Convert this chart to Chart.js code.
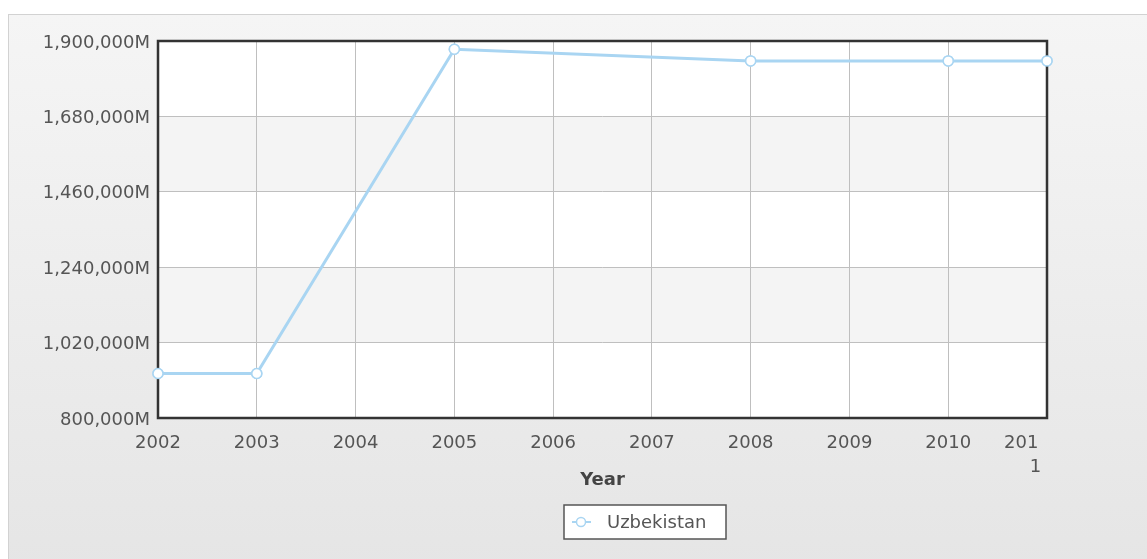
<!DOCTYPE html>
<html>
<head>
<meta charset="utf-8">
<script src="https://cdn.jsdelivr.net/npm/chart.js@4.4.0/dist/chart.umd.min.js"></script>
<style>
  body { margin: 0; background: #fff; }
  #panel {
    position: absolute; left: 8px; top: 14px; width: 1150px; height: 560px;
    border-top: 1px solid #d2d2d2; border-left: 1px solid #d2d2d2;
    background: linear-gradient(#f5f5f5, #e5e5e5);
  }
  #wrap { position: absolute; left: 0; top: 0; width: 1147px; height: 559px; }
</style>
</head>
<body>
<div id="panel"></div>
<div id="wrap"><canvas id="chart"></canvas></div>
<script>
// datos (millones)
const years = ['2002', '2003', '2004', '2005', '2006', '2007', '2008', '2009', '2010', '2011'];
const uzbekistan = [930000, 930000, null, 1876000, null, null, 1842000, null, 1842000, 1842000];
const yMin = 800000;
const yMax = 1900000;
const yStep = 220000;

const lineColor = '#a9d5f2';
const fontFamily = '"DejaVu Sans", Verdana, sans-serif';

// bandas alternas y marco del área de trazado
const plotBackground = {
    id: 'plotBackground',
    beforeDraw(chart) {
        const { ctx, chartArea: a, scales: { y } } = chart;
        ctx.save();
        ctx.fillStyle = '#ffffff';
        ctx.fillRect(a.left, a.top, a.width, a.height);
        let i = 0;
        for (let v = yMax; v > yMin; v -= yStep) {
            if (i % 2 === 1) {
                const t = y.getPixelForValue(v);
                const b = y.getPixelForValue(v - yStep);
                ctx.fillStyle = '#f4f4f4';
                ctx.fillRect(a.left, t, a.width, b - t);
            }
            i++;
        }
        ctx.restore();
    },
    afterDatasetsDraw(chart) {
        const { ctx, chartArea: a } = chart;
        ctx.save();
        ctx.strokeStyle = '#333';
        ctx.lineWidth = 2.5;
        ctx.strokeRect(a.left, a.top, a.width, a.height);
        ctx.restore();
        // volver a dibujar los puntos encima del marco
        const meta = chart.getDatasetMeta(0);
        meta.data.forEach(p => { if (!p.skip) p.draw(ctx); });
    }
};

// leyenda con recuadro, dibujada a mano
const boxLegend = {
    id: 'boxLegend',
    afterDraw(chart) {
        const { ctx } = chart;
        const ds = chart.data.datasets[0];
        const x = 564, y = 505, w = 162, h = 34;
        ctx.save();
        ctx.fillStyle = '#fff';
        ctx.fillRect(x, y, w, h);
        ctx.strokeStyle = '#555';
        ctx.lineWidth = 1.5;
        ctx.strokeRect(x, y, w, h);
        const cy = y + h / 2;
        ctx.strokeStyle = ds.borderColor;
        ctx.lineWidth = 2;
        ctx.beginPath();
        ctx.moveTo(x + 8, cy);
        ctx.lineTo(x + 27, cy);
        ctx.stroke();
        ctx.beginPath();
        ctx.arc(x + 17, cy, 4.5, 0, Math.PI * 2);
        ctx.fillStyle = '#fff';
        ctx.fill();
        ctx.lineWidth = 1.5;
        ctx.stroke();
        ctx.fillStyle = '#555';
        ctx.font = '18px ' + fontFamily;
        ctx.textBaseline = 'middle';
        ctx.fillText(ds.label, x + 43, cy + 1);
        ctx.restore();
    }
};

const ctx = document.getElementById('chart').getContext('2d');
const chart = new Chart(ctx, {
    type: 'line',
    data: {
        labels: years,
        datasets: [{
            label: 'Uzbekistan',
            data: uzbekistan,
            borderColor: lineColor,
            borderWidth: 3,
            pointRadius: 5,
            pointBorderWidth: 1.5,
            pointBackgroundColor: '#fff',
            pointBorderColor: lineColor,
            spanGaps: true,
            tension: 0,
            clip: false
        }]
    },
    options: {
        responsive: true,
        maintainAspectRatio: false,
        animation: false,
        layout: { padding: { top: 41, right: 100, bottom: 60, left: 0 } },
        plugins: {
            legend: { display: false },
            tooltip: { enabled: false }
        },
        scales: {
            x: {
                offset: false,
                grid: { color: '#bfbfbf', drawTicks: false },
                border: { display: false },
                ticks: {
                    color: '#555',
                    font: { family: fontFamily, size: 18, lineHeight: 1.35 },
                    padding: 13,
                    maxRotation: 0,
                    autoSkip: false,
                    // la última etiqueta no cabe y se parte en dos líneas, desplazada a la izquierda
                    callback(value, index, ticks) {
                        const label = this.getLabelForValue(value);
                        if (index === ticks.length - 1) {
                            return [label.slice(0, 3) + '         ', label.slice(3) + '    '];
                        }
                        return label;
                    }
                },
                title: {
                    display: true,
                    text: 'Year',
                    color: '#444',
                    font: { family: fontFamily, size: 18, weight: 'bold' },
                    padding: { top: 0, bottom: 8 }
                },
                afterFit(scale) { scale.height = 81; }
            },
            y: {
                min: yMin,
                max: yMax,
                grid: { color: '#bfbfbf', drawTicks: false },
                border: { display: false },
                ticks: {
                    stepSize: yStep,
                    color: '#555',
                    font: { family: fontFamily, size: 18 },
                    padding: 8,
                    labelOffset: 2,
                    callback: v => v.toLocaleString('en-US') + 'M'
                },
                afterFit(scale) { scale.width = 158; }
            }
        }
    },
    plugins: [plotBackground, boxLegend]
});
</script>
</body>
</html>
